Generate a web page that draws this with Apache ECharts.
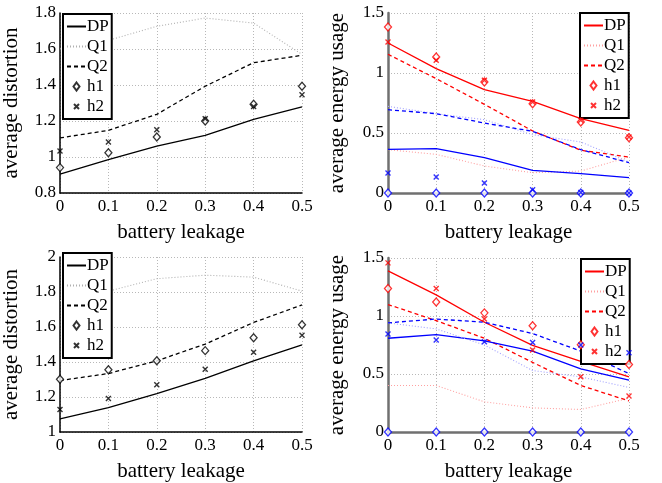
<!DOCTYPE html>
<html>
<head>
<meta charset="utf-8">
<script src="https://cdn.jsdelivr.net/npm/echarts@6/dist/echarts.min.js"></script>
<style>html,body{margin:0;padding:0;background:#fff}#c{width:662px;height:483px}</style>
</head>
<body>
<div id="c"></div>
<script>
// ---- data ----
const leakage = [0, 0.1, 0.2, 0.3, 0.4, 0.5];
const legendNames = ['DP', 'Q1', 'Q2', 'h1', 'h2'];
const xTitle = 'battery leakage';
const yTitleDist = 'average distortion';
const yTitleEnergy = 'average energy usage';

// top-left: average distortion
const tlDP = [0.905, 0.985, 1.061, 1.12, 1.209, 1.278];
const tlQ1 = [1.60, 1.648, 1.726, 1.772, 1.744, 1.57];
const tlQ2 = [1.106, 1.148, 1.237, 1.393, 1.524, 1.565];
const tlH1 = [0.941, 1.024, 1.111, 1.2, 1.293, 1.393];
const tlH2 = [1.033, 1.083, 1.152, 1.213, 1.281, 1.346];

// top-right: average energy usage (red / blue)
const trDPr = [1.25, 1.036, 0.861, 0.764, 0.619, 0.522];
const trQ1r = [0.361, 0.322, 0.225, 0.169, 0.183, 0.3];
const trQ2r = [1.156, 0.953, 0.739, 0.517, 0.356, 0.3];
const trH1r = [1.383, 1.133, 0.925, 0.744, 0.592, 0.461];
const trH2r = [1.258, 1.106, 0.939, 0.758, 0.606, 0.467];
const trDPb = [0.364, 0.369, 0.294, 0.189, 0.161, 0.128];
const trQ1b = [0.722, 0.661, 0.611, 0.486, 0.425, 0.258];
const trQ2b = [0.694, 0.661, 0.583, 0.514, 0.361, 0.253];
const trH1b = [0, 0, 0, 0, 0, 0];
const trH2b = [0.167, 0.133, 0.083, 0.028, 0.005, 0];

// bottom-left: average distortion
const blDP = [1.075, 1.139, 1.219, 1.307, 1.407, 1.498];
const blQ1 = [1.75, 1.805, 1.876, 1.896, 1.885, 1.805];
const blQ2 = [1.294, 1.334, 1.407, 1.502, 1.626, 1.726];
const blH1 = [1.301, 1.356, 1.407, 1.465, 1.538, 1.613];
const blH2 = [1.128, 1.192, 1.27, 1.358, 1.456, 1.553];

// bottom-right: average energy usage (red / blue)
const brDPr = [1.389, 1.182, 0.946, 0.747, 0.609, 0.476];
const brQ1r = [0.401, 0.401, 0.26, 0.208, 0.194, 0.291];
const brQ2r = [1.099, 0.96, 0.808, 0.6, 0.401, 0.268];
const brH1r = [1.237, 1.121, 1.027, 0.916, 0.753, 0.581];
const brH2r = [1.458, 1.237, 0.974, 0.706, 0.476, 0.31];
const brDPb = [0.808, 0.839, 0.786, 0.697, 0.545, 0.448];
const brQ1b = [0.94, 0.889, 0.75, 0.53, 0.475, 0.384];
const brQ2b = [0.941, 0.974, 0.946, 0.849, 0.697, 0.503];
const brH1b = [0, 0, 0, 0, 0, 0];
const brH2b = [0.844, 0.794, 0.778, 0.772, 0.75, 0.683];

// ---- styling / building ----
const FONT = '"Liberation Serif", "Times New Roman", serif';
const CROSS = 'path://M0,0L10,10M0,10L10,0';
const CROSS_PADDED = 'path://M-3,-3L-3,-3M0,0L10,10M0,10L10,0M13,13L13,13';
const DIAMOND_PADDED = 'path://M-6.5,4L-6.5,4M3,0L6,4L3,8L0,4ZM12.5,4L12.5,4';
const pts = arr => arr.map((v, i) => [leakage[i], v]);

function lineS(name, gi, arr, color, type, width) {
  return {
    type: 'line', name: name, xAxisIndex: gi, yAxisIndex: gi, data: pts(arr),
    symbol: 'none', showSymbol: false, silent: true, animation: false,
    lineStyle: { color: color, type: type, width: width || 1.2 },
    itemStyle: { color: color }, z: 3
  };
}
function diamondS(name, gi, arr, color) {
  return {
    type: 'scatter', name: name, xAxisIndex: gi, yAxisIndex: gi, data: pts(arr),
    symbol: 'diamond', symbolSize: [7, 8], clip: false, animation: false,
    itemStyle: { color: '#fff', borderColor: color, borderWidth: 1.3 }, z: 4
  };
}
function crossS(name, gi, arr, color) {
  return {
    type: 'scatter', name: name, xAxisIndex: gi, yAxisIndex: gi, data: pts(arr),
    symbol: CROSS, symbolSize: 5, clip: false, animation: false,
    itemStyle: { color: 'none', borderColor: color, borderWidth: 1.4 }, z: 4
  };
}
function group(suffix, gi, DP, Q1, Q2, H1, H2, c, cq1) {
  return [
    lineS('DP' + suffix, gi, DP, c, 'solid', 1.3),
    lineS('Q1' + suffix, gi, Q1, cq1, [1, 2], 1.1),
    lineS('Q2' + suffix, gi, Q2, c, [4, 3], 1.3),
    diamondS('h1' + suffix, gi, H1, c),
    crossS('h2' + suffix, gi, H2, c)
  ];
}

const series = [].concat(
  group('_tl', 0, tlDP, tlQ1, tlQ2, tlH1, tlH2, '#000', '#b0b0b0'),
  group('_trr', 1, trDPr, trQ1r, trQ2r, trH1r, trH2r, '#ff0000', '#ffa0a0'),
  group('_trb', 1, trDPb, trQ1b, trQ2b, trH1b, trH2b, '#0000ff', '#a0a0ff'),
  group('_bl', 2, blDP, blQ1, blQ2, blH1, blH2, '#000', '#b0b0b0'),
  group('_brr', 3, brDPr, brQ1r, brQ2r, brH1r, brH2r, '#ff0000', '#ffa0a0'),
  group('_brb', 3, brDPb, brQ1b, brQ2b, brH1b, brH2b, '#0000ff', '#a0a0ff')
);

const grids = [
  { left: 60, top: 13, width: 242, height: 180 },
  { left: 388, top: 13, width: 241, height: 180 },
  { left: 60, top: 257, width: 242, height: 182 },
  { left: 388, top: 258, width: 241, height: 181 }
];
const yRanges = [
  { min: 0.8, max: 1.8, interval: 0.2, name: yTitleDist, gap: 38 },
  { min: 0, max: 1.5, interval: 0.5, name: yTitleEnergy, gap: 40 },
  { min: 1, max: 2, interval: 0.2, name: yTitleDist, gap: 38 },
  { min: 0, max: 1.5, interval: 0.5, name: yTitleEnergy, gap: 40 }
];
const axisColors = ['#000', '#707070', '#000', '#707070'];
const axisWidths = [1.5, 2.5, 1.5, 2.5];

const xAxis = grids.map((g, i) => ({
  type: 'value', gridIndex: i, min: 0, max: 0.5, interval: 0.1,
  name: xTitle, nameLocation: 'middle', nameGap: 29,
  nameTextStyle: { fontFamily: FONT, fontSize: 21, color: '#000' },
  axisLine: { show: true, onZero: false, lineStyle: { color: axisColors[i], width: axisWidths[i] } },
  axisTick: { show: false },
  axisLabel: { fontFamily: FONT, fontSize: 17, color: '#000', margin: 5 },
  splitLine: { show: true, lineStyle: { color: '#b8b8b8', type: [1, 2], width: 1 } }
}));
const yAxis = yRanges.map((r, i) => ({
  type: 'value', gridIndex: i, min: r.min, max: r.max, interval: r.interval,
  name: r.name, nameLocation: 'middle', nameGap: r.gap, nameRotate: 90,
  nameTextStyle: { fontFamily: FONT, fontSize: 21, color: '#000' },
  axisLine: { show: true, onZero: false, lineStyle: { color: axisColors[i], width: axisWidths[i] } },
  axisTick: { show: false },
  axisLabel: { fontFamily: FONT, fontSize: 17, color: '#000', margin: 4 },
  splitLine: { show: true, lineStyle: { color: '#b8b8b8', type: [1, 2], width: 1 } }
}));

const legendPos = [
  { left: 63, top: 14, suffix: '_tl' },
  { left: 580, top: 13, suffix: '_trr' },
  { left: 63, top: 253, suffix: '_bl' },
  { left: 581, top: 259, suffix: '_brr' }
];
function legendItem(n, suffix) {
  const item = { name: n + suffix };
  if (n === 'DP' || n === 'Q1' || n === 'Q2') item.itemStyle = { opacity: 0 };
  if (n === 'h1') item.icon = DIAMOND_PADDED;
  if (n === 'h2') item.icon = CROSS_PADDED;
  return item;
}
const legend = legendPos.map(p => ({
  left: p.left, top: p.top, orient: 'vertical',
  data: legendNames.map(n => legendItem(n, p.suffix)),
  formatter: name => name.split('_')[0],
  backgroundColor: '#fff', borderColor: '#000', borderWidth: 2,
  padding: [4, 3, 4, 3], itemGap: 3, itemWidth: 19, itemHeight: 8, itemSymbolKeepAspect: true,
  selectedMode: false,
  textStyle: { fontFamily: FONT, fontSize: 17, color: '#000', padding: [0, 0, 0, -4], lineHeight: 16 }
}));

const chart = echarts.init(document.getElementById('c'), null, { renderer: 'canvas' });
chart.setOption({
  animation: false,
  backgroundColor: '#fff',
  grid: grids,
  xAxis: xAxis,
  yAxis: yAxis,
  legend: legend,
  series: series
});
</script>
</body>
</html>
